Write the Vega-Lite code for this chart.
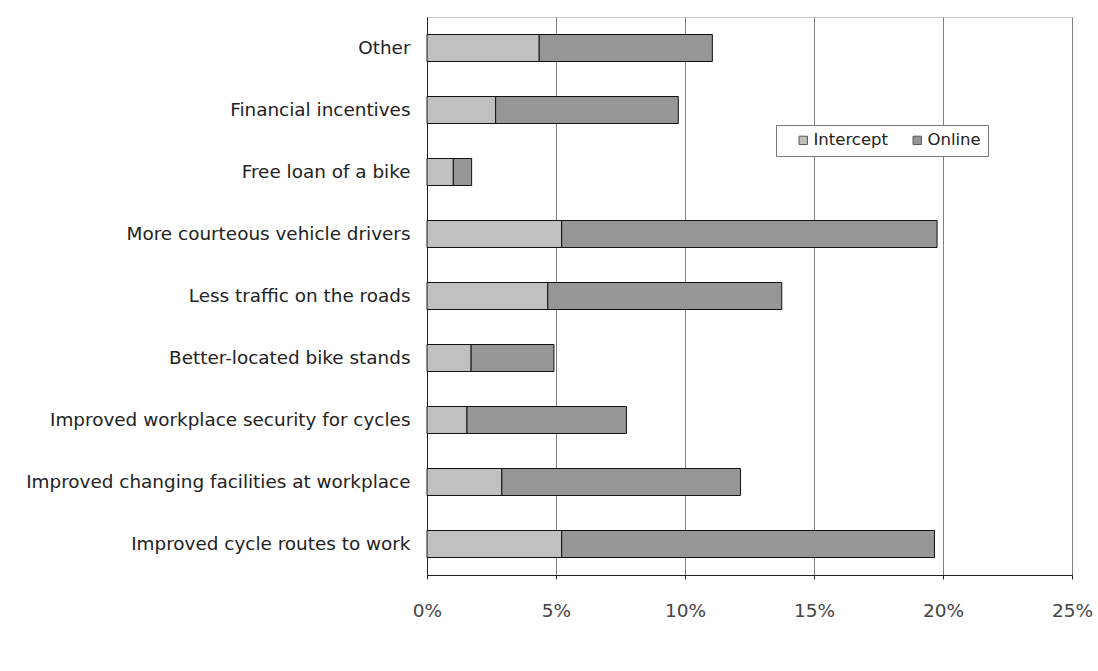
{
  "$schema": "https://vega.github.io/schema/vega-lite/v6.json",
  "autosize": "none",
  "width": 645,
  "height": 558,
  "padding": {"left": 427, "top": 17, "right": 26, "bottom": 96},
  "background": "white",
  "data": {
    "values": [
      {"reason": "Other", "survey": "Intercept", "share": 0.0435},
      {"reason": "Other", "survey": "Online", "share": 0.0671},
      {"reason": "Financial incentives", "survey": "Intercept", "share": 0.0266},
      {"reason": "Financial incentives", "survey": "Online", "share": 0.0708},
      {"reason": "Free loan of a bike", "survey": "Intercept", "share": 0.0102},
      {"reason": "Free loan of a bike", "survey": "Online", "share": 0.0071},
      {"reason": "More courteous vehicle drivers", "survey": "Intercept", "share": 0.0522},
      {"reason": "More courteous vehicle drivers", "survey": "Online", "share": 0.1455},
      {"reason": "Less traffic on the roads", "survey": "Intercept", "share": 0.0468},
      {"reason": "Less traffic on the roads", "survey": "Online", "share": 0.0907},
      {"reason": "Better-located bike stands", "survey": "Intercept", "share": 0.0171},
      {"reason": "Better-located bike stands", "survey": "Online", "share": 0.0321},
      {"reason": "Improved workplace security for cycles", "survey": "Intercept", "share": 0.0155},
      {"reason": "Improved workplace security for cycles", "survey": "Online", "share": 0.0618},
      {"reason": "Improved changing facilities at workplace", "survey": "Intercept", "share": 0.029},
      {"reason": "Improved changing facilities at workplace", "survey": "Online", "share": 0.0925},
      {"reason": "Improved cycle routes to work", "survey": "Intercept", "share": 0.0522},
      {"reason": "Improved cycle routes to work", "survey": "Online", "share": 0.1445}
    ]
  },
  "mark": {"type": "bar", "stroke": "#111111", "strokeWidth": 1},
  "encoding": {
    "y": {
      "field": "reason",
      "type": "nominal",
      "sort": null,
      "scale": {"paddingInner": 0.565, "paddingOuter": 0.2825},
      "axis": {
        "title": null,
        "ticks": false,
        "domain": true,
        "domainColor": "#222222",
        "labelFont": "DejaVu Sans",
        "labelFontSize": 18.4,
        "labelColor": "#222222",
        "labelPadding": 17,
        "labelLimit": 420
      }
    },
    "x": {
      "field": "share",
      "type": "quantitative",
      "stack": "zero",
      "scale": {"domain": [0, 0.25], "nice": false},
      "axis": {
        "title": null,
        "values": [0, 0.05, 0.1, 0.15, 0.2, 0.25],
        "format": ".0%",
        "grid": true,
        "gridColor": "#808080",
        "gridWidth": 1,
        "domainColor": "#222222",
        "tickColor": "#222222",
        "tickSize": 4,
        "labelFlush": false,
        "labelFont": "DejaVu Sans",
        "labelFontSize": 18.5,
        "labelColor": "#444444",
        "labelPadding": 22
      }
    },
    "color": {
      "field": "survey",
      "type": "nominal",
      "scale": {"domain": ["Intercept", "Online"], "range": ["#c0c0c0", "#969696"]},
      "legend": {
        "title": null,
        "orient": "none",
        "direction": "horizontal",
        "legendX": 349,
        "legendY": 108,
        "symbolType": "square",
        "symbolSize": 70,
        "symbolStrokeColor": "#555555",
        "symbolStrokeWidth": 1,
        "symbolOffset": 12,
        "labelFont": "DejaVu Sans",
        "labelFontSize": 16.5,
        "labelColor": "#222222",
        "labelOffset": 2,
        "columnPadding": 8,
        "padding": 7,
        "strokeColor": "#777777",
        "fillColor": "white"
      }
    },
    "order": {"field": "survey", "sort": "ascending"}
  },
  "config": {
    "view": {"stroke": "#c8c8c8", "strokeWidth": 1}
  }
}
